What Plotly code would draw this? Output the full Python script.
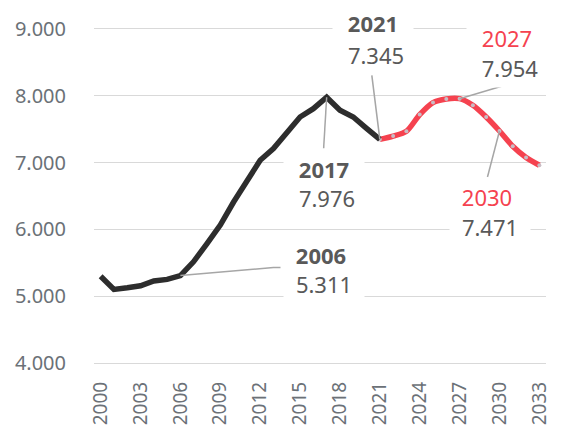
import plotly.graph_objects as go

# ---- data ----
years_hist = [2000, 2001, 2002, 2003, 2004, 2005, 2006, 2007, 2008, 2009, 2010,
              2011, 2012, 2013, 2014, 2015, 2016, 2017, 2018, 2019, 2020, 2021]
values_hist = [5300, 5105, 5128, 5158, 5230, 5254, 5311, 5520, 5790, 6065, 6410,
               6710, 7035, 7210, 7430, 7680, 7805, 7976, 7780, 7680, 7510, 7345]
years_fc = [2021, 2022, 2023, 2024, 2025, 2026, 2027, 2028, 2029, 2030, 2031, 2032, 2033]
values_fc = [7345, 7395, 7467, 7716, 7896, 7950, 7954, 7855, 7680, 7471, 7243, 7075, 6960]

y_tickvals = [4000, 5000, 6000, 7000, 8000, 9000]
y_ticktext = ["4.000", "5.000", "6.000", "7.000", "8.000", "9.000"]
x_tickvals = [2000, 2003, 2006, 2009, 2012, 2015, 2018, 2021, 2024, 2027, 2030, 2033]
x_ticktext = [str(v) for v in x_tickvals]

labels_hist = [2006, 2017, 2021]
labels_fc = [2027, 2030]

GRAY_TXT = "#595959"
RED = "#f5424f"
BLACK = "#2d2d2d"
FONT = "Noto Sans"


def fmt(v):
    return f"{v:,}".replace(",", ".")


fig = go.Figure()
fig.add_trace(go.Scatter(x=years_fc, y=values_fc, mode="lines+markers",
                         line=dict(color=RED, width=5.5, shape="spline", smoothing=0.8),
                         marker=dict(size=4, color="#c9bcc4"), hoverinfo="skip",
                         showlegend=False))
fig.add_trace(go.Scatter(x=years_hist, y=values_hist, mode="lines",
                         line=dict(color=BLACK, width=5.5), hoverinfo="skip",
                         showlegend=False))

# label placement: (year shift, value shift, leader path) in pixels
place = {
    2021: dict(yr=(-7, 116), val=(-4, 84), path="M0,0 L-8,64"),
    2027: dict(yr=(47, 61), val=(50, 31), path="M0,0 L47,14"),
    2017: dict(yr=(-3, -72), val=(0, -101), path="M0,0 L-3,-51"),
    2030: dict(yr=(-12, -66), val=(-9, -96), path="M0,0 L-12,-46"),
    2006: dict(yr=(141, 21), val=(144, -8), path="M0,0 L93,8 L103,8"),
}

points = {}
for yv in labels_hist:
    points[yv] = (values_hist[years_hist.index(yv)], True)
for yv in labels_fc:
    points[yv] = (values_fc[years_fc.index(yv)], False)

shapes = []
annotations = []
for yr, (val, is_hist) in points.items():
    p = place[yr]
    shapes.append(dict(type="path", xref="x", yref="y", xsizemode="pixel", ysizemode="pixel",
                       xanchor=yr, yanchor=val, path=p["path"],
                       line=dict(color="#a6a6a6", width=1.5), layer="above"))
    year_txt = f"<b>{yr}</b>" if is_hist else str(yr)
    year_col = GRAY_TXT if is_hist else RED
    annotations.append(dict(x=yr, y=val, xref="x", yref="y", text=year_txt, showarrow=False,
                            xshift=p["yr"][0], yshift=p["yr"][1], bgcolor="white",
                            width=72, borderpad=4,
                            font=dict(family=FONT, size=22, color=year_col)))
    annotations.append(dict(x=yr, y=val, xref="x", yref="y", text=fmt(val), showarrow=False,
                            xshift=p["val"][0], yshift=p["val"][1], bgcolor="white",
                            width=72, borderpad=4,
                            font=dict(family=FONT, size=22, color=GRAY_TXT)))

fig.update_layout(
    width=571, height=433,
    margin=dict(l=94, r=25, t=27, b=68, autoexpand=False),
    plot_bgcolor="white", paper_bgcolor="white",
    font=dict(family=FONT, color="#6b7177"),
    shapes=shapes, annotations=annotations,
    xaxis=dict(range=[1999.5, 2033.5], tickvals=x_tickvals, ticktext=x_ticktext,
               tickangle=-90, showgrid=False, zeroline=False, showline=False,
               automargin=False,
               ticks="", ticklabelstandoff=12, tickfont=dict(size=19, color="#6b7177")),
    yaxis=dict(range=[3975, 9025], tickvals=y_tickvals, ticktext=y_ticktext,
               showgrid=True, gridcolor="#d9d9d9", gridwidth=1.5, zeroline=False,
               showline=False, ticks="", ticklabelstandoff=27, automargin=False,
               tickfont=dict(size=20, color="#6b7177")),
)

fig.write_html("out.html", config={"displayModeBar": False, "staticPlot": True},
               post_script="document.body.style.margin='0';document.body.style.overflow='hidden';")
